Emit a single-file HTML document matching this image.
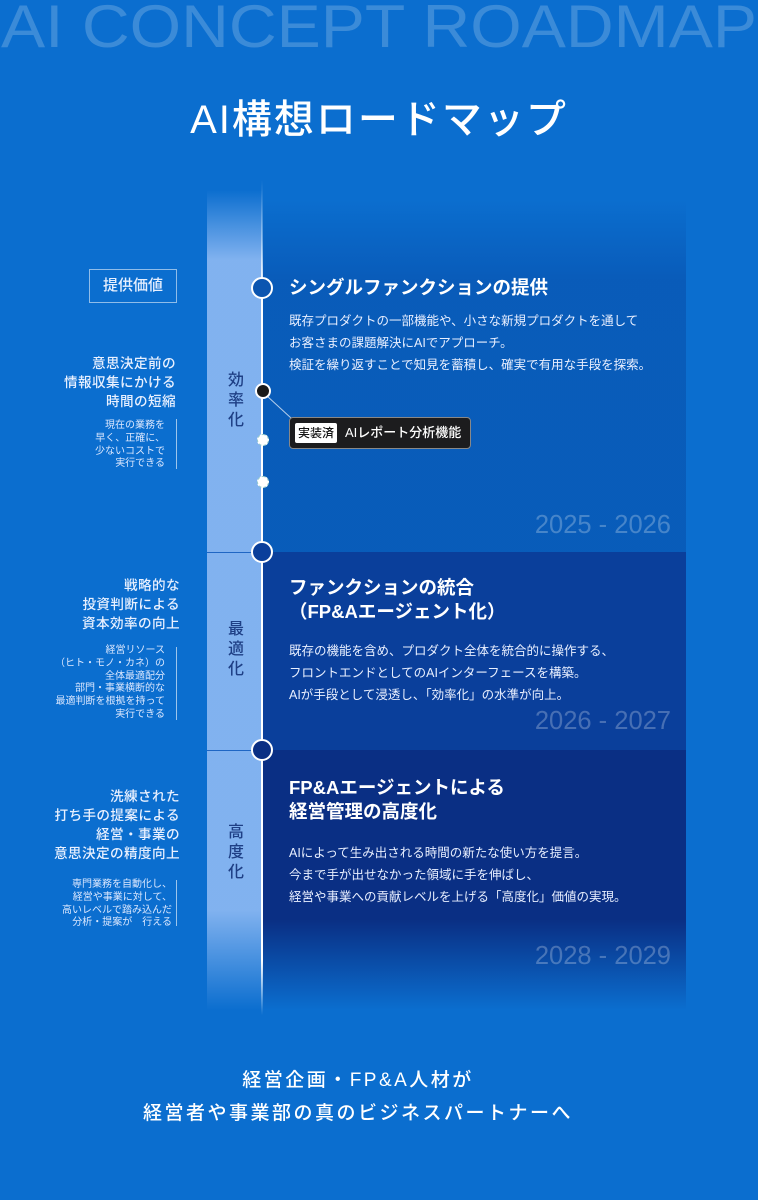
<!DOCTYPE html>
<html><head><meta charset="utf-8">
<style>
*{margin:0;padding:0;box-sizing:border-box}
body{width:758px;height:1200px;overflow:hidden;background:#0b6ecf;font-family:"Liberation Sans","Noto Sans CJK JP",sans-serif;color:#fff;position:relative}
.a{position:absolute;white-space:nowrap}
.r{text-align:right}
.band{position:absolute;left:207px;width:55px;top:190px;height:820px;background:linear-gradient(to bottom,rgba(150,190,245,0) 0,rgba(150,190,245,.85) 70px,rgba(150,190,245,.85) 720px,rgba(150,190,245,0) 820px)}
.p1{position:absolute;left:263px;width:423px;top:200px;height:352px;background:linear-gradient(to bottom,rgba(8,80,175,0) 0,rgba(8,85,178,.75) 80px,rgba(8,88,180,.8) 100%)}
.p2{position:absolute;left:263px;width:423px;top:552px;height:198px;background:#0a3f9b}
.p3{position:absolute;left:263px;width:423px;top:750px;height:260px;background:linear-gradient(to bottom,#0a2f84 0,#0a2f84 170px,rgba(10,47,132,0) 260px)}
.line{position:absolute;left:261px;width:2px;top:180px;height:835px;background:linear-gradient(to bottom,rgba(255,255,255,0) 0,rgba(255,255,255,.4) 60px,#fff 110px,#fff 780px,rgba(255,255,255,0) 835px)}
.big{position:absolute;width:22px;height:22px;border-radius:50%;border:2.5px solid #fff;background:#0a3f9b}
.lh{font-size:13.6px;line-height:19px;font-weight:500;color:#e8f0ff;letter-spacing:.4px}
.sm{font-size:10px;line-height:12.8px;color:#dce8ff}
.vl{position:absolute;left:176px;width:1px;background:rgba(255,255,255,.6)}
.bl{position:absolute;left:226px;width:20px;font-size:16px;line-height:20px;font-weight:500;color:#1e3f85;text-align:center;white-space:normal}
.h{font-size:18.5px;line-height:24px;font-weight:bold}
.t{font-size:12.5px;line-height:22px;color:#e8efff}
.y{font-size:25.5px;color:rgba(255,255,255,.25);text-align:right;right:87px}
</style></head><body>
<svg class="a" style="left:0;top:0" width="758" height="60"><text x="1" y="47" textLength="756" lengthAdjust="spacingAndGlyphs" font-family="Liberation Sans" font-size="60" fill="rgba(255,255,255,0.2)">AI CONCEPT ROADMAP</text></svg>
<div class="a" style="left:0;width:758px;text-align:center;top:96px;font-size:40px;line-height:48px;font-weight:500;letter-spacing:2px">AI構想ロードマップ</div>

<div class="band"></div>
<div class="p1"></div><div class="p2"></div><div class="p3"></div>
<div class="a" style="left:207px;width:55px;top:552px;height:1px;background:#1f66c4"></div>
<div class="a" style="left:207px;width:55px;top:750px;height:1px;background:#1f66c4"></div>
<div class="line"></div>

<div class="big" style="left:251px;top:277px;background:#0b55b0"></div>
<div class="big" style="left:251px;top:541px"></div>
<div class="big" style="left:251px;top:739px;background:#0a2f84"></div>
<div class="a" style="left:255px;top:383px;width:16px;height:16px;border-radius:50%;background:#1a1a1a;border:2px solid #fff"></div>
<div class="a" style="left:257px;top:434px;width:12px;height:12px;border-radius:50%;background:#fff;border:1px dashed #9cc"></div>
<div class="a" style="left:257px;top:476px;width:12px;height:12px;border-radius:50%;background:#fff;border:1px dashed #9cc"></div>
<svg class="a" style="left:260px;top:390px" width="40" height="35"><line x1="7" y1="6" x2="31" y2="28" stroke="rgba(255,255,255,.7)" stroke-width="1"/></svg>
<div class="a" style="left:289px;top:417px;width:182px;height:32px;background:#1c1c1e;border:1px solid #888;border-radius:4px"></div>
<div class="a" style="left:295px;top:423px;width:42px;height:20px;background:#fff;border-radius:2px;color:#111;font-size:12px;line-height:20px;text-align:center;font-weight:500">実装済</div>
<div class="a" style="left:345px;top:423px;font-size:13px;line-height:20px;font-weight:500">AIレポート分析機能</div>

<div class="a" style="left:89px;top:269px;width:88px;height:34px;border:1px solid rgba(255,255,255,.55);font-size:15px;line-height:32px;text-align:center;font-weight:500;color:#e8f0ff">提供価値</div>

<div class="a r lh" style="right:582px;top:354px">意思決定前の<br>情報収集にかける<br>時間の短縮</div>
<div class="a r sm" style="right:593px;top:420px">現在の業務を<br>早く、正確に、<br>少ないコストで<br>実行できる</div>
<div class="vl" style="top:419px;height:50px"></div>

<div class="a r lh" style="right:578px;top:576px">戦略的な<br>投資判断による<br>資本効率の向上</div>
<div class="a r sm" style="right:593px;top:645px">経営リソース<br>（ヒト・モノ・カネ）の<br>全体最適配分<br>部門・事業横断的な<br>最適判断を根拠を持って<br>実行できる</div>
<div class="vl" style="top:647px;height:73px"></div>

<div class="a r lh" style="right:578px;top:787px">洗練された<br>打ち手の提案による<br>経営・事業の<br>意思決定の精度向上</div>
<div class="a r sm" style="right:586px;top:879px">専門業務を自動化し、<br>経営や事業に対して、<br>高いレベルで踏み込んだ<br>分析・提案が　行える</div>
<div class="vl" style="top:880px;height:46px"></div>

<div class="bl" style="top:371px">効率化</div>
<div class="bl" style="top:620px">最適化</div>
<div class="bl" style="top:823px">高度化</div>

<div class="a h" style="left:289px;top:276px">シングルファンクションの提供</div>
<div class="a t" style="left:289px;top:310px">既存プロダクトの一部機能や、小さな新規プロダクトを通して<br>お客さまの課題解決にAIでアプローチ。<br>検証を繰り返すことで知見を蓄積し、確実で有用な手段を探索。</div>
<div class="a y" style="top:511px">2025 - 2026</div>

<div class="a h" style="left:289px;top:576px">ファンクションの統合<br>（FP&amp;Aエージェント化）</div>
<div class="a t" style="left:289px;top:640px">既存の機能を含め、プロダクト全体を統合的に操作する、<br>フロントエンドとしてのAIインターフェースを構築。<br>AIが手段として浸透し、「効率化」の水準が向上。</div>
<div class="a y" style="top:707px">2026 - 2027</div>

<div class="a h" style="left:289px;top:776px">FP&amp;Aエージェントによる<br>経営管理の高度化</div>
<div class="a t" style="left:289px;top:842px">AIによって生み出される時間の新たな使い方を提言。<br>今まで手が出せなかった領域に手を伸ばし、<br>経営や事業への貢献レベルを上げる「高度化」価値の実現。</div>
<div class="a y" style="top:942px">2028 - 2029</div>

<div class="a" style="left:-21px;width:758px;text-align:center;top:1064px;font-size:19px;line-height:33px;font-weight:500;letter-spacing:2.5px">経営企画・FP&amp;A人材が<br>経営者や事業部の真のビジネスパートナーへ</div>
</body></html>
